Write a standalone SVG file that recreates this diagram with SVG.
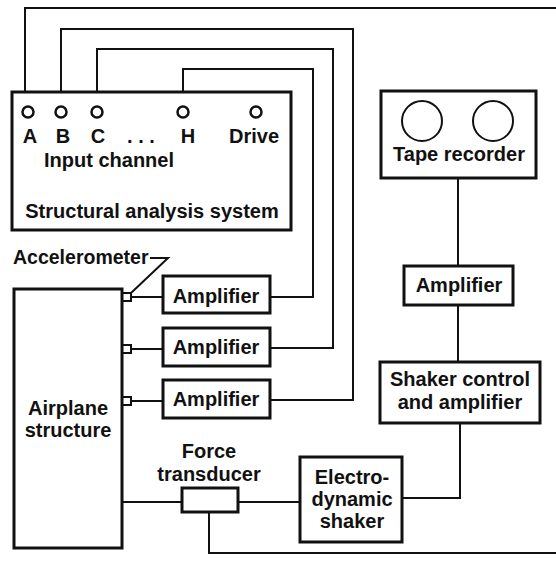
<svg xmlns="http://www.w3.org/2000/svg" width="556" height="565" viewBox="0 0 556 565">
<style>
.box{fill:#fff;stroke:#111;stroke-width:3}
.ln{fill:none;stroke:#111;stroke-width:2}
.cir{fill:none;stroke:#111;stroke-width:2.5}
.port{fill:#fff;stroke:#111;stroke-width:2}
text{font-family:"Liberation Sans",Arial,sans-serif;font-weight:bold;font-size:20px;fill:#111}
.c{text-anchor:middle}
</style>
<rect width="556" height="565" fill="#fff"/>
<g id="connectors">
<polyline class="ln" points="25,92 25,8 556,8"/>
<polyline class="ln" points="61,92 61,29 353,29 353,400 270,400"/>
<polyline class="ln" points="97,92 97,49 333,49 333,348 270,348"/>
<polyline class="ln" points="183,92 183,69 313,69 313,297 270,297"/>
<line class="ln" x1="131" y1="297" x2="163" y2="297"/>
<line class="ln" x1="131" y1="349" x2="163" y2="349"/>
<line class="ln" x1="131" y1="401" x2="163" y2="401"/>
<polyline class="ln" points="150,258 168,258 131,293"/>
<line class="ln" x1="122" y1="502" x2="182" y2="502"/>
<line class="ln" x1="238" y1="502" x2="300" y2="502"/>
<polyline class="ln" points="209,512 209,553 556,553"/>
<polyline class="ln" points="402,498 460,498 460,423"/>
<line class="ln" x1="458" y1="178" x2="458" y2="266"/>
<line class="ln" x1="458" y1="305" x2="458" y2="362"/>
</g>
<g id="structural-analysis-system">
<rect class="box" x="12" y="92" width="279" height="138"/>
<circle class="cir" cx="28" cy="112" r="5.5"/>
<circle class="cir" cx="61" cy="112" r="5.5"/>
<circle class="cir" cx="97" cy="112" r="5.5"/>
<circle class="cir" cx="183" cy="112" r="5.5"/>
<circle class="cir" cx="256" cy="112" r="5.5"/>
<text class="c" x="30" y="143">A</text>
<text class="c" x="63" y="143">B</text>
<text class="c" x="98" y="143">C</text>
<text class="c" x="141" y="143">. . .</text>
<text class="c" x="188" y="143">H</text>
<text class="c" x="254" y="143">Drive</text>
<text x="44" y="167">Input channel</text>
<text class="c" x="152" y="218">Structural analysis system</text>
</g>
<g id="tape-recorder">
<rect class="box" x="381" y="91" width="155" height="87"/>
<circle class="ln" cx="422" cy="121" r="20"/>
<circle class="ln" cx="493" cy="121" r="20"/>
<text class="c" x="459" y="161">Tape recorder</text>
</g>
<g id="accelerometer">
<text x="13" y="264" style="font-size:19.5px">Accelerometer</text>
<rect class="port" x="122" y="293" width="9" height="8"/>
<rect class="port" x="122" y="345" width="9" height="8"/>
<rect class="port" x="122" y="397" width="9" height="8"/>
</g>
<g id="airplane-structure">
<rect class="box" x="14" y="289" width="108" height="259"/>
<text class="c" x="68" y="415">Airplane</text>
<text class="c" x="68" y="437">structure</text>
</g>
<g id="amplifier-1">
<rect class="box" x="163" y="276" width="107" height="37"/>
<text class="c" x="216" y="303">Amplifier</text>
</g>
<g id="amplifier-2">
<rect class="box" x="163" y="328" width="107" height="38"/>
<text class="c" x="216" y="354">Amplifier</text>
</g>
<g id="amplifier-3">
<rect class="box" x="163" y="380" width="107" height="38"/>
<text class="c" x="216" y="406">Amplifier</text>
</g>
<g id="amplifier-4">
<rect class="box" x="404" y="266" width="109" height="39"/>
<text class="c" x="459" y="292">Amplifier</text>
</g>
<g id="shaker-control">
<rect class="box" x="380" y="362" width="160" height="61"/>
<text class="c" x="460" y="386">Shaker control</text>
<text class="c" x="460" y="409">and amplifier</text>
</g>
<g id="force-transducer">
<rect class="box" x="182" y="488" width="56" height="24"/>
<text class="c" x="209" y="458">Force</text>
<text class="c" x="209" y="481">transducer</text>
</g>
<g id="electrodynamic-shaker">
<rect class="box" x="300" y="457" width="102" height="85"/>
<text class="c" x="352" y="484">Electro-</text>
<text class="c" x="352" y="506">dynamic</text>
<text class="c" x="352" y="528">shaker</text>
</g>
</svg>
